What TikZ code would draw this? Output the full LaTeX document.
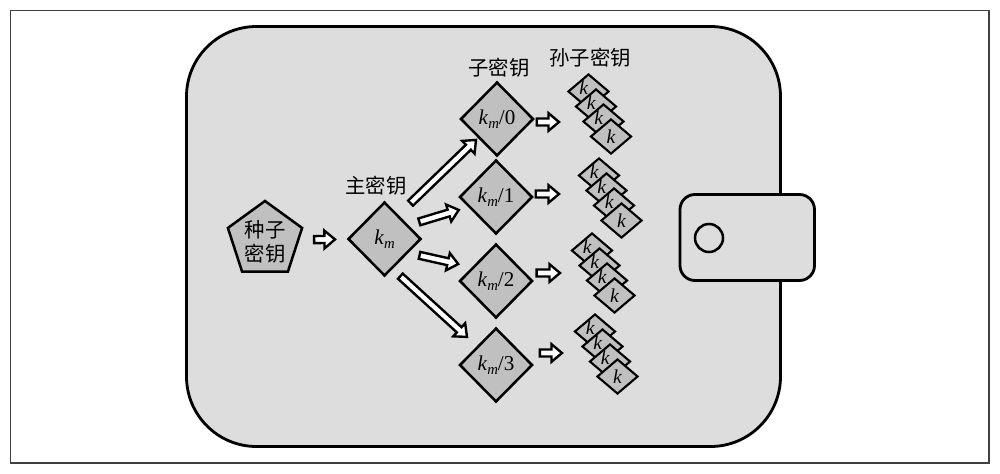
\documentclass[tikz,border=0pt]{standalone}
\usepackage{fontspec}
\setmainfont{Liberation Serif}
\newfontfamily\cjk{Noto Sans CJK SC}
\usetikzlibrary{shapes.geometric,calc}
\definecolor{walletfill}{HTML}{DDDDDD}
\definecolor{keyfill}{HTML}{C0C0C0}
\definecolor{framecol}{HTML}{404040}
\newcommand\kmlab[1]{\textit{k}\raisebox{-0.4ex}{\fontsize{10.5}{11}\selectfont\textit{m}}#1}
\def\asw{2.5pt}
\def\ahw{6.3pt}
\def\ahl{7.5pt}
\newcommand\barrow[4]{%
  \draw[barrowst] let \p1=(#1), \p2=(#2),
    \n1={atan2(\y2-\y1,\x2-\x1)},
    \n2={veclen(\x2-\x1,\y2-\y1)-(#3pt)-(#4pt)},
    \n3={\n2-\ahl} in
    {[shift={(\p1)}, rotate=\n1, xshift=#3 pt]
     (0pt,\asw) -- (\n3,\asw) -- (\n3,\ahw) -- (\n2,0pt) -- (\n3,-\ahw) -- (\n3,-\asw) -- (0pt,-\asw) -- cycle};%
}
\tikzset{
  barrowst/.style={line width=1.7pt, fill=white, draw=black, line join=miter},
  kdia/.style={diamond, draw, line width=1.8pt, fill=keyfill, inner sep=0pt,
    minimum width=18.25mm, minimum height=18.5mm, font=\fontsize{15}{17}\selectfont},
  gk/.style={diamond, draw, line width=1.5pt, fill=keyfill, inner sep=0pt,
    minimum width=10.25mm, minimum height=8.75mm, font=\fontsize{14}{16}\selectfont\itshape},
  gklab/.style={inner sep=0pt, font=\fontsize{14}{16}\selectfont\itshape},
  cjklab/.style={font=\cjk\fontsize{14.5}{17}\selectfont, inner sep=0pt},
}
\begin{document}
\begin{tikzpicture}[x=0.25mm, y=-0.25mm]
\fill[white] (0,0) rectangle (1000,474);
\useasboundingbox (0,0) rectangle (1000,474);
% outer frame
\draw[framecol, line width=0.8pt] (10.5,10.5) rectangle (989,463);
% wallet
\draw[line width=2pt, fill=walletfill, rounded corners=17.5mm] (186.5,26.5) rectangle (780.5,446.5);
\draw[line width=2pt, fill=walletfill, rounded corners=3.75mm] (680,194.5) rectangle (814.5,280.5);
\draw[line width=1.8pt] (709,238) circle[radius=3.5mm];
% seed
\node[regular polygon, regular polygon sides=5, draw, line width=1.8pt, fill=keyfill,
  minimum size=19.5mm, inner sep=0pt,
  label={[cjklab, align=center, yshift=-0.4mm]center:种子\\密钥}] (seed) at (265,240) {};
% master and children
\node[kdia] (km) at (384.5,239) {\kmlab{}};
\node[kdia] (c0) at (497,119) {\kmlab{/0}};
\node[kdia] (c1) at (496,197) {\kmlab{/1}};
\node[kdia] (c2) at (496,281) {\kmlab{/2}};
\node[kdia] (c3) at (496,365) {\kmlab{/3}};
\node[cjklab] (lkm) at (376,185.5) {主密钥};
\node[cjklab] (lc) at (499,68) {子密钥};
\node[cjklab] (lg) at (590,58) {孙子密钥};
% grandchildren
\foreach \sx/\sy [count=\s] in {588.5/91.5, 599/175.5, 592/250.5, 595/331.5} {
  \foreach \j in {0,1,2}
    \node[gk, label={[gklab, xshift=-1.2mm, yshift=1mm]center:k}] (g\s\j) at (\sx+7.5*\j, \sy+15*\j) {};
  \node[gk] (g\s3) at (\sx+22.5, \sy+45) {k};
}
\coordinate (a0) at (559,122);
\coordinate (a1) at (559,194);
\coordinate (a2) at (560,273);
\coordinate (a3) at (562,353);
% arrows
\barrow{seed}{km}{34.9}{35.2}
\barrow{km.60}{c0.225}{12}{1.8}
\barrow{km.30}{c1.200}{8}{7}
\barrow{km.-30}{c2.150}{8}{10}
\barrow{km.-75}{c3.135}{7.5}{9.5}
\barrow{c0.east |- a0}{a0}{1.4}{0}
\barrow{c1.east |- a1}{a1}{1.4}{0}
\barrow{c2.east |- a2}{a2}{2}{0}
\barrow{c3.east |- a3}{a3}{4.3}{0}
\end{tikzpicture}
\end{document}
